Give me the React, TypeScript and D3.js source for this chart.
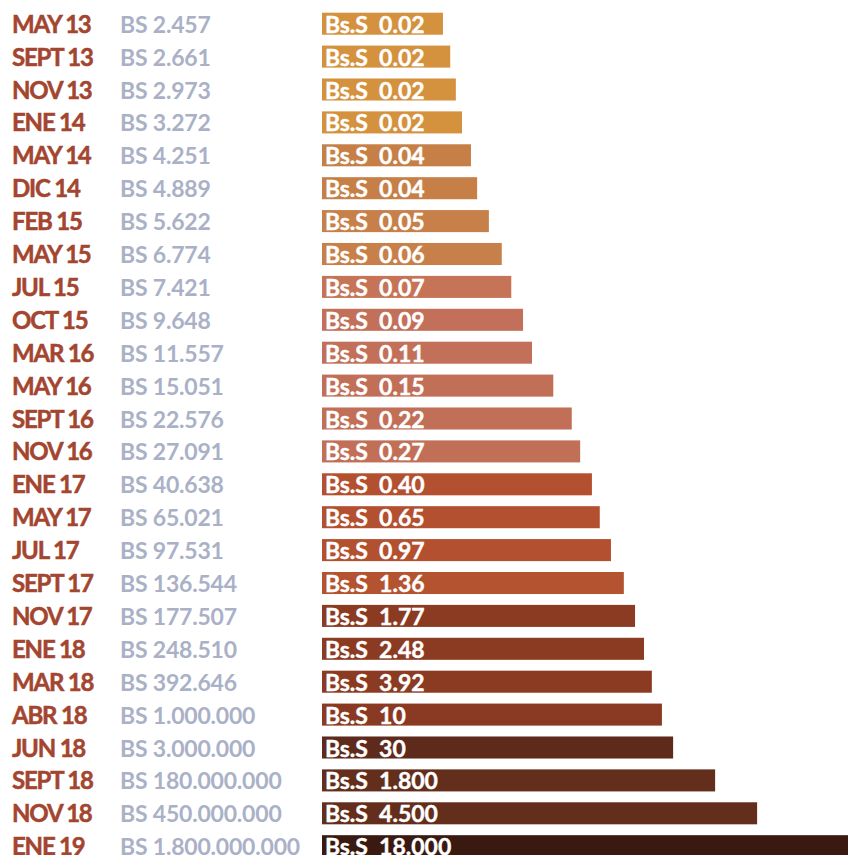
import React, { useEffect, useRef } from "react";
import * as d3 from "d3";

// Dates, old bolivar amounts and converted soberano amounts, top to bottom
const dates = [
  "MAY 13", "SEPT 13", "NOV 13", "ENE 14", "MAY 14", "DIC 14", "FEB 15", "MAY 15", "JUL 15",
  "OCT 15", "MAR 16", "MAY 16", "SEPT 16", "NOV 16", "ENE 17", "MAY 17", "JUL 17", "SEPT 17",
  "NOV 17", "ENE 18", "MAR 18", "ABR 18", "JUN 18", "SEPT 18", "NOV 18", "ENE 19",
];
const bsValues = [
  "2.457", "2.661", "2.973", "3.272", "4.251", "4.889", "5.622", "6.774", "7.421",
  "9.648", "11.557", "15.051", "22.576", "27.091", "40.638", "65.021", "97.531", "136.544",
  "177.507", "248.510", "392.646", "1.000.000", "3.000.000", "180.000.000", "450.000.000",
  "1.800.000.000",
];
const bssValues = [
  "0.02", "0.02", "0.02", "0.02", "0.04", "0.04", "0.05", "0.06", "0.07",
  "0.09", "0.11", "0.15", "0.22", "0.27", "0.40", "0.65", "0.97", "1.36",
  "1.77", "2.48", "3.92", "10", "30", "1.800", "4.500", "18.000",
];
// relative bar length (longest bar = 100)
const barIndex = [
  21.6, 22.9, 23.9, 25.0, 26.6, 27.7, 29.8, 32.1, 33.8,
  35.9, 37.5, 41.3, 44.6, 46.1, 48.2, 49.6, 51.6, 53.9,
  55.9, 57.5, 58.9, 60.7, 62.7, 70.2, 77.7, 100,
];

const barColors = [
  "#d4923f", "#d4923f", "#d4923f", "#d4923f", "#c67f46", "#c67f46", "#c8804a", "#c8804a", "#c67458",
  "#c3705a", "#c3705a", "#c26f58", "#c26f58", "#c26f58", "#b3502f", "#b3502f", "#b3502f", "#b4532f",
  "#8c3b23", "#8c3b23", "#8c3b23", "#8a3a22", "#5e2a1b", "#642e1d", "#642e1d", "#3a1a10",
];

const width = 848;
const height = 855;

export default function App() {
  const svgRef = useRef<SVGSVGElement>(null);

  useEffect(() => {
    const svg = d3.select(svgRef.current);
    svg.selectAll("*").remove();

    const rows = dates.map((date, i) => ({
      date,
      bs: bsValues[i],
      bss: bssValues[i],
      len: barIndex[i],
      color: barColors[i],
    }));

    // rows are 32.9px apart, bars 22px tall
    const y = d3
      .scaleBand<string>()
      .domain(dates)
      .range([7.25, 7.25 + 32.9 * dates.length])
      .paddingInner(0.33)
      .paddingOuter(0.165);

    const x = d3.scaleLinear().domain([0, 100]).range([322, 322 + 560]);

    const baseline = (d: { date: string }) => (y(d.date) ?? 0) + y.bandwidth() / 2 + 9;

    // bars
    svg
      .append("g")
      .selectAll("rect")
      .data(rows)
      .enter()
      .append("rect")
      .attr("x", x(0))
      .attr("y", d => y(d.date) ?? 0)
      .attr("width", d => x(d.len) - x(0))
      .attr("height", y.bandwidth())
      .attr("fill", d => d.color);

    // date labels
    svg
      .append("g")
      .selectAll("text")
      .data(rows)
      .enter()
      .append("text")
      .attr("x", 12)
      .attr("y", baseline)
      .attr("font-family", "Lato, 'Open Sans', sans-serif")
      .attr("font-weight", 700)
      .attr("font-size", 24)
      .attr("letter-spacing", -1.2)
      .attr("fill", "#a3452f")
      .attr("stroke", "#a3452f")
      .attr("stroke-width", 0.5)
      .text(d => d.date);

    // old bolivar amounts
    svg
      .append("g")
      .selectAll("text")
      .data(rows)
      .enter()
      .append("text")
      .attr("x", 120)
      .attr("y", baseline)
      .attr("font-family", "Lato, 'Open Sans', sans-serif")
      .attr("font-weight", 700)
      .attr("font-size", 23)
      .attr("letter-spacing", -0.2)
      .attr("fill", "#aab1c7")
      .text(d => `BS ${d.bs}`);

    // soberano labels inside bars
    svg
      .append("g")
      .selectAll("text")
      .data(rows)
      .enter()
      .append("text")
      .attr("x", x(0) + 3)
      .attr("y", baseline)
      .attr("font-family", "Lato, 'Open Sans', sans-serif")
      .attr("font-weight", 700)
      .attr("font-size", 23)
      .attr("fill", "#ffffff")
      .attr("stroke", "#ffffff")
      .attr("stroke-width", 0.4)
      .style("white-space", "pre")
      .text(d => `Bs.S  ${d.bss}`);
  }, []);

  return (
    <svg
      ref={svgRef}
      width={width}
      height={height}
      style={{ position: "absolute", left: 0, top: 0, background: "#ffffff" }}
    />
  );
}
